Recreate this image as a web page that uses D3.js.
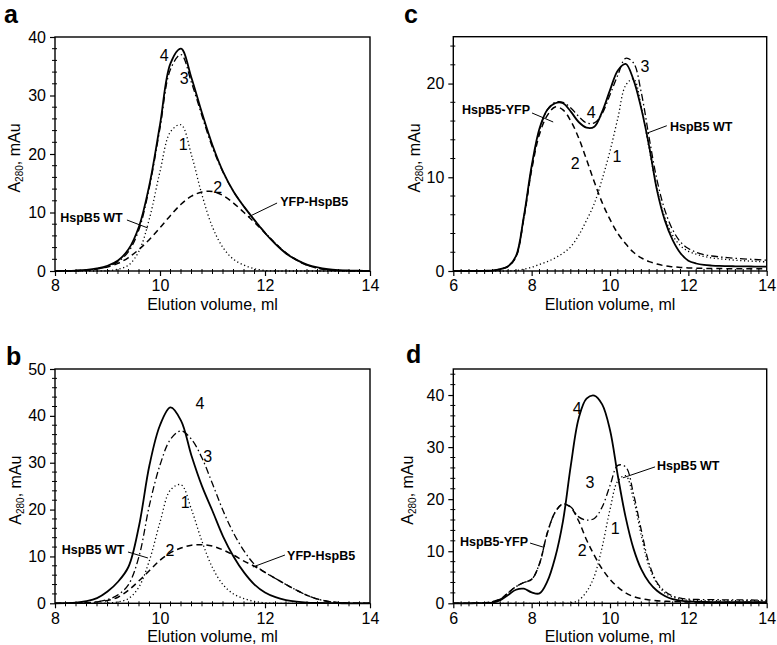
<!DOCTYPE html>
<html><head><meta charset="utf-8">
<script src="https://cdn.jsdelivr.net/npm/d3@7/dist/d3.min.js"></script>
<style>
body{margin:0;background:#fff}
svg{display:block}
text{font-family:"Liberation Sans", Arial, Helvetica, sans-serif;fill:#000}
</style>
</head><body>
<svg id="chart" width="777" height="645"></svg>
<script>
// ---- Elution volume grids (ml) ----
const xAB = [8.0,8.2,8.4,8.6,8.8,9.0,9.2,9.4,9.6,9.8,10.0,10.2,10.4,10.6,10.8,11.0,11.2,11.4,11.6,11.8,12.0,12.2,12.4,12.6,12.8,13.0,13.2,13.4,13.6,13.8,14.0];
const xCD = [6.0,6.2,6.4,6.6,6.8,7.0,7.2,7.4,7.6,7.8,8.0,8.2,8.4,8.6,8.8,9.0,9.2,9.4,9.6,9.8,10.0,10.2,10.4,10.6,10.8,11.0,11.2,11.4,11.6,11.8,12.0,12.2,12.4,12.6,12.8,13.0,13.2,13.4,13.6,13.8,14.0];

// ---- Panel a: A280 (mAu); curve 1 dotted, 2 dashed, 3 dash-dot, 4 solid ----
const pa1 = [0,0,0,0,0,0.05,0.3,1.0,3.4,9.0,17.0,23.8,25.0,19.8,13.0,7.5,4.0,2.0,1.0,0.4,0.1,0,0,0,0,0,0,0,0,0,0];
const pa2 = [0,0,0.05,0.15,0.35,0.7,1.3,2.3,3.7,5.4,7.4,9.5,11.4,12.8,13.5,13.6,12.9,11.6,10.0,8.3,6.5,4.7,3.1,1.9,1.0,0.5,0.2,0.08,0.03,0,0];
const pa3 = [0,0,0.05,0.15,0.35,0.75,1.6,3.3,7.1,14.4,24.4,34.5,37.0,32.2,26.5,21.1,16.9,13.6,11.0,8.7,6.6,4.7,3.1,1.9,1.0,0.5,0.2,0.08,0.03,0,0];
const pa4 = [0,0.02,0.08,0.2,0.45,0.9,1.8,3.7,7.6,14.8,25.0,35.5,38.0,33.0,27.0,21.5,17.0,13.6,11.0,8.7,6.5,4.6,3.0,1.9,1.1,0.6,0.3,0.15,0.08,0.04,0.02];

// ---- Panel b ----
const pb1 = [0,0,0,0,0,0.05,0.3,1.0,3.5,9.2,17.3,24.2,25.3,20.0,13.2,7.6,4.0,2.0,1.0,0.4,0.1,0,0,0,0,0,0,0,0,0,0];
const pb2 = [0,0,0.03,0.1,0.3,0.6,1.3,2.8,4.8,7.0,9.2,10.8,11.8,12.4,12.5,12.2,11.4,10.3,9.0,7.9,6.6,5.3,4.0,2.8,1.7,0.9,0.4,0.15,0.05,0,0];
const pb3 = [0,0,0.03,0.1,0.3,0.8,1.8,4.0,10.0,21.0,29.5,35.0,36.8,35.0,31.0,25.5,19.8,15.0,11.2,8.3,6.6,5.3,4.0,2.8,1.7,0.9,0.4,0.15,0.05,0,0];
const pb4 = [0,0.03,0.12,0.45,1.1,2.5,4.6,7.8,16.5,29.5,38.0,41.8,39.0,31.5,25.0,19.7,14.3,10.0,6.6,4.0,2.3,1.3,0.7,0.35,0.15,0.08,0.04,0.02,0,0,0];

// ---- Panel c ----
const pc1 = [0,0,0,0,0,0,0,0,0.05,0.2, 0.4,0.7,1.0,1.4,1.9,2.6,3.8,5.4,7.2,9.8, 12.8,16.3,19.8,20.5,17.5,13.0,8.8,5.7,3.8,2.7, 2.1,1.8,1.55,1.4,1.3,1.22,1.15,1.1,1.05,1.0, 0.98];
const pc2 = [0,0,0,0,0.02,0.05,0.2,0.5,1.5,5.6, 10.8,14.6,16.6,17.5,17.2,16.0,14.2,11.9,9.5,7.3, 5.5,4.0,2.9,2.0,1.4,1.0,0.75,0.55,0.45,0.38, 0.33,0.3,0.28,0.27,0.26,0.25,0.25,0.24,0.24,0.23, 0.23];
const pc3 = [0,0,0,0,0.02,0.05,0.2,0.5,1.55,5.7, 11.0,15.0,17.2,18.0,18.0,17.4,16.5,15.8,15.8,16.8, 18.8,20.9,22.7,22.2,19.0,14.2,9.7,6.5,4.4,3.1, 2.4,2.0,1.75,1.6,1.5,1.42,1.35,1.3,1.25,1.2, 1.15];
const pc4 = [0,0,0,0,0.02,0.05,0.2,0.5,1.6,5.8, 11.2,15.2,17.2,17.9,17.9,17.0,15.9,15.3,15.4,17.0, 19.3,21.4,22.1,20.4,17.3,13.3,8.6,5.4,3.3,1.9, 1.1,0.8,0.65,0.58,0.54,0.52,0.5,0.49,0.48,0.47, 0.46];

// ---- Panel d ----
const pd1 = [0,0,0,0,0,0,0,0,0,0, 0,0,0,0,0,0.05,0.6,2.2,5.2,10.8, 18.0,23.5,24.5,20.0,13.0,7.0,3.8,2.0,1.2,0.8, 0.6,0.55,0.52,0.5,0.5,0.5,0.5,0.5,0.5,0.5, 0.5];
const pd2 = [0,0,0,0.02,0.1,0.3,0.8,2.0,3.2,4.0, 4.6,7.6,13.5,17.5,19.1,18.4,15.8,12.2,9.2,6.6, 4.6,3.1,2.0,1.3,0.9,0.65,0.5,0.4,0.32,0.28, 0.25,0.23,0.22,0.21,0.2,0.2,0.2,0.2,0.2,0.2, 0.2];
const pd3 = [0,0,0,0.02,0.1,0.3,0.8,2.0,3.2,4.0, 4.6,7.6,13.5,17.5,19.1,18.5,16.6,16.0,16.3,18.5, 22.6,26.5,26.2,21.0,14.0,7.6,4.0,2.3,1.4,1.0, 0.8,0.75,0.7,0.7,0.68,0.66,0.65,0.64,0.63,0.62, 0.6];
const pd4 = [0,0,0,0.02,0.05,0.15,0.6,1.6,2.6,2.8, 2.1,1.9,4.2,8.8,15.8,26.5,35.5,39.3,39.9,38.2, 33.3,24.5,16.5,10.5,6.5,4.0,2.4,1.4,0.8,0.5, 0.35,0.3,0.25,0.22,0.2,0.2,0.2,0.2,0.2,0.2, 0.2];

// ---- Tick values ----
const xTicksAB = [8,10,12,14];
const xTicksCD = [6,8,10,12,14];
const yTicksA = [0,10,20,30,40];
const yTicksB = [0,10,20,30,40,50];
const yTicksC = [0,10,20];
const yTicksD = [0,10,20,30,40];

const curveNames = ["1","2","3","4"];
const xTitle = "Elution volume, ml";

// ---- Layout / style ----
const styles = [
  {dash:"1.2,2.6", w:1.3},
  {dash:"6,4", w:1.5},
  {dash:"7,3,1.5,3", w:1.3},
  {dash:null, w:1.8}
];

const panels = [
  {letter:"a", L:55, R:370, T:37, B:271, xd:[8,14], yd:[0,40], xt:xTicksAB, yt:yTicksA, xs:xAB, ser:[pa1,pa2,pa3,pa4],
   letterPos:[4,23], yTitleX:20,
   nums:[[10.44,21.7],[11.10,14.4],[10.46,33.0],[10.08,36.9]],
   notes:[{t:"HspB5 WT", at:[8.1,9.06], ln:[[9.37,8.72],[9.77,7.35]]},
          {t:"YFP-HspB5", at:[12.29,11.8], ln:[[12.23,11.62],[11.68,9.23]]}]},
  {letter:"b", L:55, R:370, T:369, B:603.3, xd:[8,14], yd:[0,50], xt:xTicksAB, yt:yTicksB, xs:xAB, ser:[pb1,pb2,pb3,pb4],
   letterPos:[6,365], yTitleX:21,
   nums:[[10.48,21.6],[10.19,11.4],[10.91,31.4],[10.76,42.7]],
   notes:[{t:"HspB5 WT", at:[8.13,11.4], ln:[[9.39,10.95],[9.77,9.67]]},
          {t:"YFP-HspB5", at:[12.42,10.3], ln:[[12.38,10.3],[11.77,7.75]]}]},
  {letter:"c", L:453.3, R:766.7, T:36.7, B:271, xd:[6,14], yd:[0,25], xt:xTicksCD, yt:yTicksC, xs:xCD, ser:[pc1,pc2,pc3,pc4],
   letterPos:[404,23], yTitleX:420,
   nums:[[10.18,12.2],[9.11,11.5],[10.89,21.8],[9.52,16.96]],
   notes:[{t:"HspB5-YFP", at:[6.22,17.2], ln:[[8.01,16.86],[8.55,15.9]]},
          {t:"HspB5 WT", at:[11.53,15.4], ln:[[11.45,15.5],[10.94,14.7]]}]},
  {letter:"d", L:453.3, R:766.7, T:369, B:603.3, xd:[6,14], yd:[0,45], xt:xTicksCD, yt:yTicksD, xs:xCD, ser:[pd1,pd2,pd3,pd4],
   letterPos:[406,363], yTitleX:413,
   nums:[[10.13,14.5],[9.29,10.24],[9.49,23.3],[9.16,37.5]],
   notes:[{t:"HspB5 WT", at:[11.2,26.4], ln:[[11.15,26.2],[10.33,24.1]]},
          {t:"HspB5-YFP", at:[6.17,11.95], ln:[[7.96,11.57],[8.29,10.8]]}]}
];

const svg = d3.select("#chart");

panels.forEach(p => {
  const x = d3.scaleLinear().domain(p.xd).range([p.L, p.R]);
  const y = d3.scaleLinear().domain(p.yd).range([p.B, p.T]);
  const g = svg.append("g");

  // minor ticks
  const xMinor = d3.range(p.xd[0], p.xd[1] + 1e-9, 0.2).filter(v => Math.abs(v - Math.round(v/2)*2) > 1e-6);
  const yMinor = d3.range(p.yd[0], p.yd[1] + 1e-9, 2).filter(v => v % 10 !== 0);
  g.selectAll(".xm").data(xMinor).join("line")
    .attr("x1", d => x(d)).attr("x2", d => x(d))
    .attr("y1", p.B - 2).attr("y2", p.B + 3)
    .attr("stroke", "#000").attr("stroke-width", 1);
  g.selectAll(".ym").data(yMinor).join("line")
    .attr("y1", d => y(d)).attr("y2", d => y(d))
    .attr("x1", p.L - 3).attr("x2", p.L + 2)
    .attr("stroke", "#000").attr("stroke-width", 1);

  // major axes
  const ax = g.append("g").attr("transform", `translate(0,${p.B})`)
    .call(d3.axisBottom(x).tickValues(p.xt).tickSize(5).tickPadding(4).tickSizeOuter(0).tickFormat(d3.format("d")));
  const ay = g.append("g").attr("transform", `translate(${p.L},0)`)
    .call(d3.axisLeft(y).tickValues(p.yt).tickSize(5).tickPadding(4).tickSizeOuter(0).tickFormat(d3.format("d")));
  [ax, ay].forEach(a => {
    a.select(".domain").remove();
    a.attr("font-family", null).attr("font-size", null);
    a.selectAll("text").attr("font-size", 16).attr("fill", "#000");
    a.selectAll("line").attr("stroke", "#000").attr("stroke-width", 1.2);
  });

  // curves
  const line = d3.line()
    .x((d, i) => x(p.xs[i]))
    .y(d => y(d))
    .curve(d3.curveCatmullRom.alpha(0.5));
  p.ser.forEach((s, k) => {
    g.append("path").datum(s)
      .attr("d", line)
      .attr("fill", "none")
      .attr("stroke", "#000")
      .attr("stroke-width", styles[k].w)
      .attr("stroke-dasharray", styles[k].dash)
      .attr("stroke-linejoin", "round");
  });

  // frame
  g.append("rect").attr("x", p.L).attr("y", p.T)
    .attr("width", p.R - p.L).attr("height", p.B - p.T)
    .attr("fill", "none").attr("stroke", "#000").attr("stroke-width", 1.4);

  // curve numbers
  p.nums.forEach((pos, k) => {
    g.append("text").attr("x", x(pos[0])).attr("y", y(pos[1]))
      .attr("dy", "0.36em").attr("text-anchor", "middle")
      .attr("font-size", 16).text(curveNames[k]);
  });

  // annotations
  p.notes.forEach(n => {
    g.append("text").attr("x", x(n.at[0])).attr("y", y(n.at[1]))
      .attr("dy", "0.36em").attr("font-size", 12.5).attr("font-weight", "bold").text(n.t);
    g.append("line")
      .attr("x1", x(n.ln[0][0])).attr("y1", y(n.ln[0][1]))
      .attr("x2", x(n.ln[1][0])).attr("y2", y(n.ln[1][1]))
      .attr("stroke", "#000").attr("stroke-width", 1);
  });

  // axis titles
  g.append("text").attr("x", (p.L + p.R) / 2).attr("y", p.B + 38.5)
    .attr("text-anchor", "middle").attr("font-size", 16).text(xTitle);
  const yt = g.append("text")
    .attr("transform", `translate(${p.yTitleX},${(p.T + p.B) / 2 + 4}) rotate(-90)`)
    .attr("text-anchor", "middle").attr("font-size", 16);
  yt.append("tspan").text("A");
  yt.append("tspan").attr("font-size", 10).attr("dy", 3).text("280");
  yt.append("tspan").attr("dy", -3).text(", mAu");

  // panel letter
  g.append("text").attr("x", p.letterPos[0]).attr("y", p.letterPos[1])
    .attr("font-size", 25).attr("font-weight", "bold").text(p.letter);
});
</script>
</body></html>
